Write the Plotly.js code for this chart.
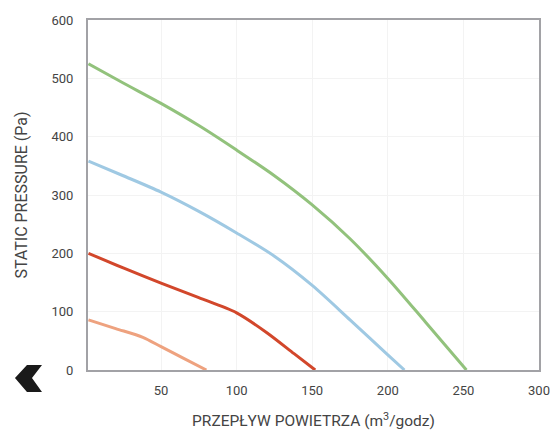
<!DOCTYPE html>
<html>
<head>
<meta charset="utf-8">
<script src="https://cdn.plot.ly/plotly-3.0.1.min.js"></script>
<style>html,body{margin:0;padding:0;background:#fff;}#chart{width:553px;height:432px;}</style>
</head>
<body>
<div id="chart"></div>
<script>
// Series data (x: m3/godz, y: Pa)
const greenX = [2, 25, 50, 75, 100, 125, 150, 175, 200, 225, 252];
const greenY = [525, 492, 457, 419, 377, 333, 283, 225, 157, 82, 0];
const blueX = [2, 25, 50, 75, 100, 125, 150, 175, 200, 211];
const blueY = [358, 333, 305, 272, 235, 195, 145, 86, 26, 0];
const redX = [2, 25, 50, 75, 100, 120, 138, 152];
const redY = [200, 175, 149, 124, 98, 64, 28, 0];
const orangeX = [2, 20, 38, 50, 65, 80];
const orangeY = [86, 71, 56, 40, 20, 0];
const xTicks = [50, 100, 150, 200, 250, 300];
const yTicks = [0, 100, 200, 300, 400, 500, 600];

function line(x, y, color) {
  return {x: x, y: y, type: 'scatter', mode: 'lines',
    line: {color: color, width: 3, shape: 'spline', smoothing: 0.8},
    hoverinfo: 'skip', showlegend: false};
}

const data = [
  line(greenX, greenY, '#92c27c'),
  line(blueX, blueY, '#9fc9e3'),
  line(redX, redY, '#d2472b'),
  line(orangeX, orangeY, '#eea27f')
];

const fontFam = 'Roboto, sans-serif';
const layout = {
  width: 553, height: 432,
  margin: {l: 88, r: 14, t: 20, b: 62},
  paper_bgcolor: '#fff', plot_bgcolor: '#fff',
  showlegend: false,
  font: {family: fontFam, size: 13, color: '#444'},
  xaxis: {
    range: [1.7, 300], tickvals: xTicks, ticktext: xTicks.map(String),
    showgrid: true, gridcolor: '#f3f3f3', gridwidth: 1,
    zeroline: false, showline: true, linecolor: '#a2a2a6', linewidth: 2, mirror: true,
    ticks: '', ticklabelstandoff: 7,
    tickfont: {family: fontFam, size: 13, color: '#444'},
    title: {text: 'PRZEPŁYW POWIETRZA (m<sup>3</sup>/godz)', standoff: 19,
      font: {family: fontFam, size: 15.5, color: '#444'}}
  },
  yaxis: {
    range: [0, 600], tickvals: yTicks, ticktext: yTicks.map(String),
    showgrid: true, gridcolor: '#f3f3f3', gridwidth: 1,
    zeroline: false, showline: true, linecolor: '#a2a2a6', linewidth: 2, mirror: true,
    ticks: '', ticklabelstandoff: 10,
    tickfont: {family: fontFam, size: 13, color: '#444'},
    title: {text: 'STATIC PRESSURE (Pa)', standoff: 20,
      font: {family: fontFam, size: 16, color: '#444'}}
  },
  shapes: [{
    type: 'path', xref: 'paper', yref: 'paper',
    path: 'M -0.1619 -0.0229 L -0.1353 0.0143 L -0.1020 0.0143 L -0.1242 -0.0229 L -0.1020 -0.0629 L -0.1353 -0.0629 Z',
    fillcolor: '#1a1a1a', line: {width: 0}
  }]
};

Plotly.newPlot('chart', data, layout, {displayModeBar: false, staticPlot: true});
</script>
</body>
</html>
